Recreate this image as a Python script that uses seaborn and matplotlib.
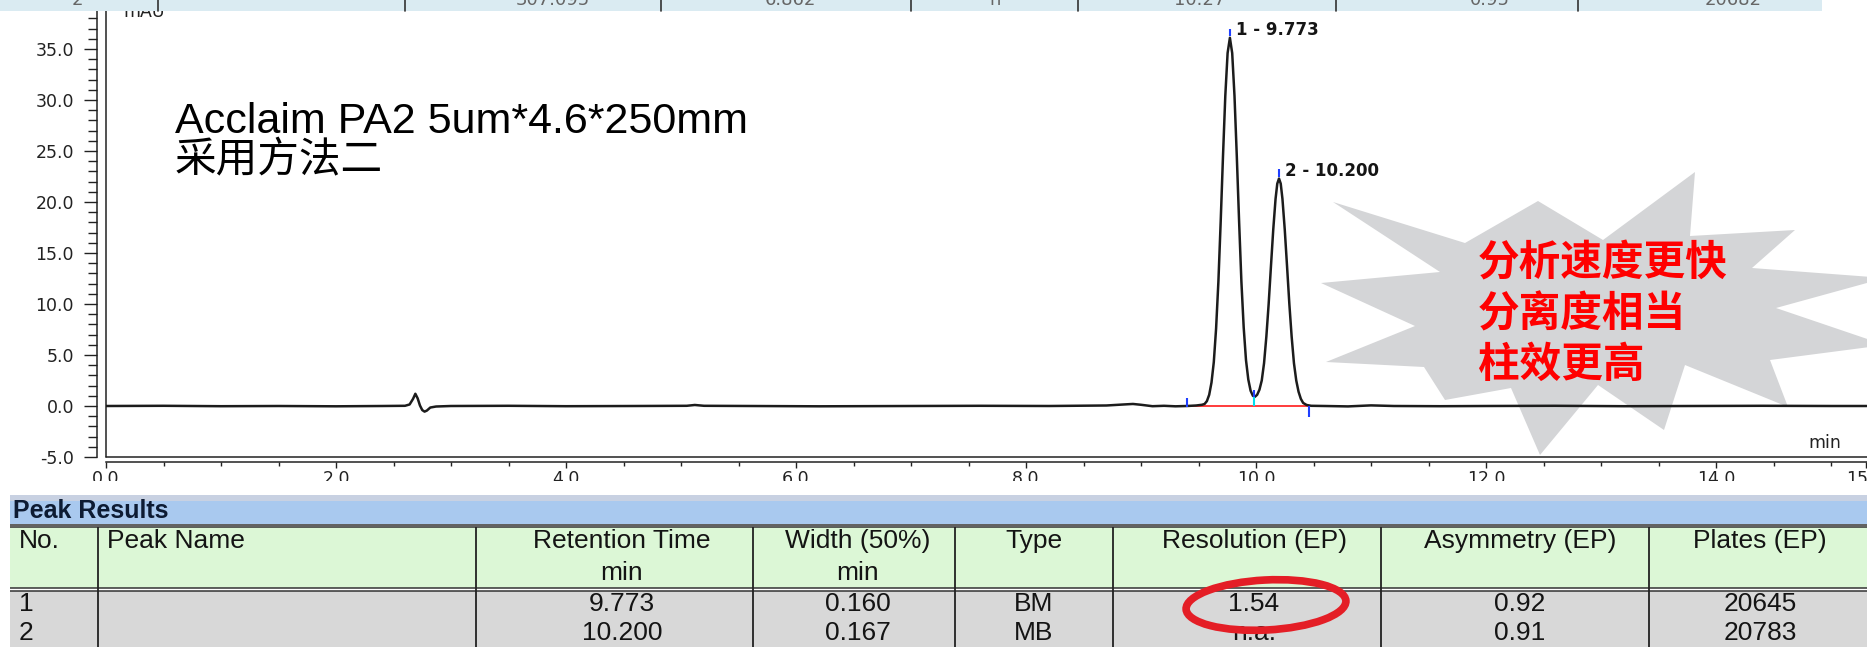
import seaborn as sns
import matplotlib.pyplot as plt
from matplotlib.patches import Rectangle, Polygon, Ellipse
from matplotlib.ticker import MultipleLocator, FixedLocator, FormatStrFormatter

# chromatogram trace (time in min, signal in mAU)
time_min = [0.00, 0.50, 1.00, 1.50, 2.00, 2.40, 2.60, 2.64, 2.67, 2.69, 2.71, 2.73, 2.75, 2.77,
            2.79, 2.82, 2.87, 3.00, 3.50, 4.00, 4.60, 5.05, 5.12, 5.20, 5.60, 6.20, 7.00, 7.60,
            8.20, 8.70, 8.85, 8.93, 9.00, 9.10, 9.20, 9.30, 9.40, 9.48, 9.53, 9.553, 9.573, 9.593,
            9.613, 9.633, 9.653, 9.673, 9.693, 9.713, 9.733, 9.753, 9.773, 9.793, 9.813, 9.833,
            9.853, 9.873, 9.893, 9.913, 9.933, 9.953, 9.973, 9.99, 10.01, 10.03, 10.05, 10.07,
            10.09, 10.11, 10.13, 10.15, 10.17, 10.185, 10.20, 10.215, 10.23, 10.25, 10.27, 10.29,
            10.31, 10.33, 10.35, 10.37, 10.39, 10.41, 10.44, 10.48, 10.60, 10.80, 11.00, 11.20,
            11.60, 12.00, 12.60, 13.20, 13.80, 14.40, 15.00, 15.31]
signal_mau = [0.00, 0.02, -0.02, 0.00, -0.03, 0.00, 0.02, 0.15, 0.70, 1.20, 0.75, 0.05, -0.40, -0.55,
              -0.45, -0.15, -0.05, 0.00, 0.02, -0.02, 0.00, 0.02, 0.10, 0.02, 0.00, -0.03, 0.00, 0.02,
              0.00, 0.05, 0.15, 0.20, 0.12, -0.02, 0.02, -0.03, 0.00, 0.05, 0.12, 0.20, 0.48, 1.1,
              2.3, 4.3, 7.6, 12.2, 18.1, 24.5, 30.4, 34.6, 36.1, 34.6, 30.4, 24.5,
              18.1, 12.2, 7.7, 4.5, 2.6, 1.5, 1.0, 0.9, 1.1, 1.6, 2.5, 4.2,
              6.8, 10.0, 13.7, 17.3, 20.3, 21.8, 22.3, 21.8, 20.3, 17.3, 13.7, 10.0,
              6.8, 4.2, 2.5, 1.4, 0.7, 0.3, 0.1, 0.02, 0.00, -0.04, 0.06, 0.00,
              -0.02, 0.00, 0.02, -0.02, 0.00, 0.02, 0.00, 0.00]

peak_no = ["1", "2"]
peak_name = ["", ""]
peak_rt = [9.773, 10.200]
peak_height = [36.1, 22.3]
peak_width = ["0.160", "0.167"]
peak_type = ["BM", "MB"]
peak_resolution = ["1.54", "n.a."]
peak_asymmetry = ["0.92", "0.91"]
peak_plates = ["20645", "20783"]
integ_start, integ_valley, integ_end = 9.40, 9.98, 10.46

x_ticks = [0, 2, 4, 6, 8, 10, 12, 14, 15.3]

headers_top = ["No.", "Peak Name", "Retention Time", "Width (50%)", "Type",
               "Resolution (EP)", "Asymmetry (EP)", "Plates (EP)"]
headers_unit = ["", "", "min", "min", "", "", "", ""]

note_lines = ["分析速度更快", "分离度相当", "柱效更高"]

sns.set_style("white")
plt.rcParams['font.family'] = ['DejaVu Sans', 'Noto Sans CJK SC']

W, H = 1867, 647
fig = plt.figure(figsize=(W / 100, H / 100), dpi=100)
fig.patch.set_facecolor('white')


def fp(x, y):  # pixel (from top-left) -> figure fraction
    return x / W, 1 - y / H


# ---- chromatogram ----
ax = fig.add_axes([106 / W, 1 - 457 / H, (W - 106) / W, (457 - 11) / H])

star = [(1333, 202), (1465, 243), (1538, 201), (1603, 240), (1695, 172), (1690, 236),
        (1795, 230), (1752, 268), (1885, 278), (1776, 308), (1885, 345), (1770, 360),
        (1788, 407), (1685, 365), (1664, 430), (1598, 385), (1540, 455), (1511, 388),
        (1445, 400), (1424, 367), (1326, 362), (1415, 326), (1321, 283), (1440, 272)]
ax.add_patch(Polygon([fp(x, y) for x, y in star], closed=True, transform=fig.transFigure,
                     facecolor='#d4d5d7', edgecolor='none', zorder=1, clip_on=False))

sns.lineplot(x=time_min, y=signal_mau, ax=ax, color='#1c1c1c', linewidth=1.8, zorder=3)

ax.set_xlim(0, (W - 106) / 115)
ax.set_ylim(-5, -5 + (457 - 11) / 10.2)

# integration marks
ax.plot([integ_start, integ_end], [0, 0], color='#ff3b3b', lw=1.4, zorder=2)
ax.vlines(integ_start, -0.1, 0.8, color='#1f3fff', lw=1.5, zorder=4)
ax.vlines(integ_valley, 0, 0.9, color='#00e0f0', lw=1.5, zorder=4)
ax.vlines(integ_valley, 0.9, 1.6, color='#1f3fff', lw=1.5, zorder=4)
ax.vlines(integ_end, -1.1, 0, color='#1f3fff', lw=1.5, zorder=4)
for no, rt, h in zip(peak_no, peak_rt, peak_height):
    ax.vlines(rt, h + 0.2, h + 0.9, color='#1f3fff', lw=1.5, zorder=4)
    ax.text(rt + 0.055, h + 0.75, f"{no} - {rt:.3f}", fontsize=12, fontweight='bold',
            va='center', ha='left', color='#151515', zorder=4)

for s in ['top', 'right']:
    ax.spines[s].set_visible(False)
ax.spines['left'].set_position(('outward', 6.5))
ax.spines['bottom'].set_position(('outward', 3.6))
for s in ['left', 'bottom']:
    ax.spines[s].set_linewidth(1.1)
    ax.spines[s].set_color('#222222')
ax.axvline(0, color='#222222', lw=1.1, clip_on=False)
ax.axhline(-5, color='#222222', lw=1.1, clip_on=False)

ax.yaxis.set_major_locator(MultipleLocator(5))
ax.yaxis.set_minor_locator(MultipleLocator(1))
ax.yaxis.set_major_formatter(FormatStrFormatter('%.1f'))
ax.xaxis.set_major_locator(FixedLocator(x_ticks))
ax.xaxis.set_minor_locator(MultipleLocator(0.5))
ax.xaxis.set_major_formatter(FormatStrFormatter('%.1f'))
ax.tick_params(axis='y', which='major', length=9.5, width=1.0, pad=7, labelsize=12.5,
               colors='#222222', left=True)
ax.tick_params(axis='y', which='minor', length=6.5, width=1.0, colors='#222222', left=True)
ax.tick_params(axis='x', which='major', length=4.5, width=1.0, pad=1.5, labelsize=12.5,
               colors='#222222', bottom=True)
ax.tick_params(axis='x', which='minor', length=3, width=1.0, colors='#222222', bottom=True)
ax.set_xlabel('')
ax.set_ylabel('')

fig.text(*fp(123, 17), 'mAU', fontsize=12.5, va='baseline', color='#222222')
fig.text(*fp(1808, 448), 'min', fontsize=12.5, va='baseline', color='#222222')

fig.text(*fp(175, 133), 'Acclaim PA2 5um*4.6*250mm', fontsize=31, va='baseline',
         family=['Liberation Sans', 'DejaVu Sans'], color='black')
fig.text(*fp(175, 161), '采用方法二', fontsize=30, va='center',
         family=['Noto Sans CJK SC', 'DejaVu Sans'], color='black')
for i, line in enumerate(note_lines):
    fig.text(*fp(1478, 263 + 51 * i), line, fontsize=30, va='center', fontweight='bold',
             family=['Noto Sans CJK SC', 'DejaVu Sans'], color='#ff0000')

# cropped pieces of the screenshot: top strip and white gap under the axis labels
fig.add_artist(Rectangle(fp(0, 11), 1822 / W, 11 / H, transform=fig.transFigure,
                         facecolor='#daebf2', edgecolor='none', zorder=5))
for x in [158, 405, 661, 911, 1078, 1336, 1578]:
    fig.add_artist(plt.Line2D([x / W, x / W], [1 - 11 / H, 1], transform=fig.transFigure,
                              color='#333333', lw=1.2, zorder=6))
for x, t in [(77, "2"), (553, "307.095"), (790, "6.862"), (995, "n"), (1200, "10.27"),
             (1490, "0.95"), (1733, "20682")]:
    fig.text(*fp(x, 5), t, fontsize=13, ha='center', va='baseline', color='#666666', zorder=6)
fig.add_artist(Rectangle(fp(0, 495), 1, 14 / H, transform=fig.transFigure,
                         facecolor='white', edgecolor='none', zorder=5))

# ---- peak results table ----
tax = fig.add_axes([0, 0, 1, (H - 495) / H])
tax.set_xlim(0, W)
tax.set_ylim(H, 495)
tax.axis('off')
L = 10
tax.add_patch(Rectangle((L, 495), W, 6, facecolor='#c8d1e2', edgecolor='none'))
tax.add_patch(Rectangle((L, 501), W, 23, facecolor='#a9c9ef', edgecolor='none'))
tax.add_patch(Rectangle((L, 527), W, 61, facecolor='#dcf7d6', edgecolor='none'))
tax.add_patch(Rectangle((L, 591), W, 60, facecolor='#d8d8d8', edgecolor='none'))
tax.hlines([524.5, 527, 588, 590.5], L, W, color='#333333', lw=1.1)
col_edges = [L, 98, 476, 753, 955, 1113, 1381, 1649, W]
tax.vlines(col_edges[1:-1], 527, H, color='#222222', lw=1.3)

tfont = ['Liberation Sans', 'DejaVu Sans']
tax.text(L + 3, 511, 'Peak Results', fontsize=18, fontweight='bold', va='center',
         family=tfont, color='#0d1b33')
col_centers = [None, None, 622, 858, 1034, 1254, 1520, 1760]
for i, (top, unit) in enumerate(zip(headers_top, headers_unit)):
    if col_centers[i] is None:
        tax.text(col_edges[i] + 9, 541, top, fontsize=19, va='center', ha='left',
                 family=tfont, color='#141414')
    else:
        tax.text(col_centers[i], 541, top, fontsize=19, va='center', ha='center',
                 family=tfont, color='#141414')
        if unit:
            tax.text(col_centers[i], 573, unit, fontsize=19, va='center', ha='center',
                     family=tfont, color='#141414')

row_y = [604, 633]
for r in range(len(peak_no)):
    y = row_y[r]
    tax.text(col_edges[0] + 9, y, peak_no[r], fontsize=19, va='center', family=tfont, color='#141414')
    tax.text(col_edges[1] + 9, y, peak_name[r], fontsize=19, va='center', family=tfont, color='#141414')
    vals = [f"{peak_rt[r]:.3f}", peak_width[r], peak_type[r], peak_resolution[r],
            peak_asymmetry[r], peak_plates[r]]
    for c, v in zip(col_centers[2:], vals):
        tax.text(c, y, v, fontsize=19, va='center', ha='center', family=tfont, color='#141414')

tax.add_patch(Ellipse((1266, 605), 160, 50, angle=-3, fill=False, edgecolor='#e41e26',
                      lw=5.5, zorder=5))

fig.savefig('out.png', dpi=100, facecolor='white')
